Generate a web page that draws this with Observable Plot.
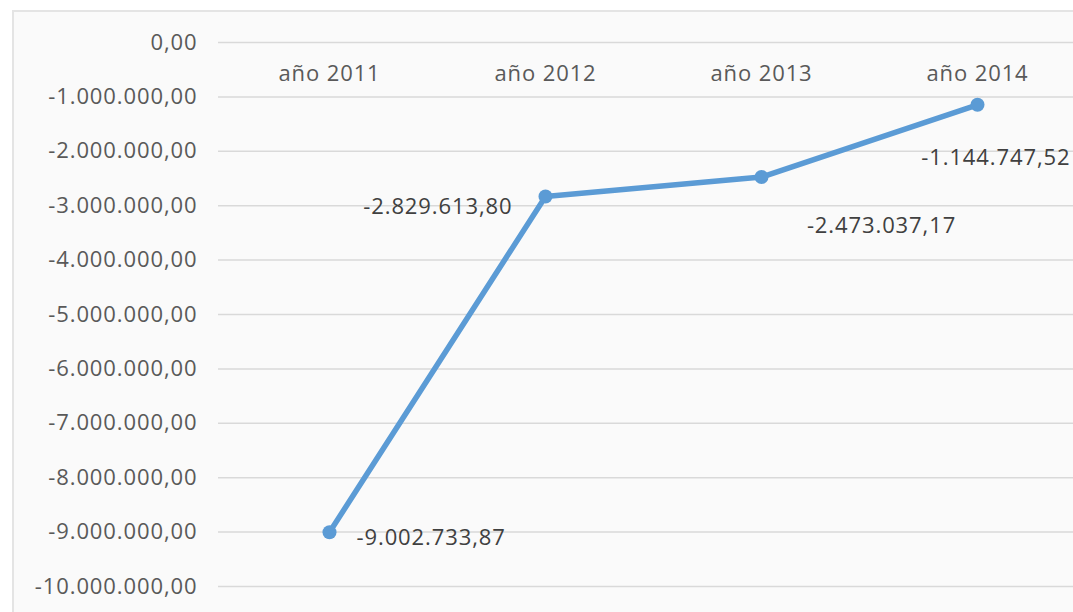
<!DOCTYPE html>
<html><head><meta charset="utf-8">
<script src="https://cdn.jsdelivr.net/npm/d3@7"></script>
<script src="https://cdn.jsdelivr.net/npm/@observablehq/plot@0.6"></script>
<style>
body{margin:0;background:#fff;overflow:hidden;width:1073px;height:612px}
#frame{position:absolute;left:12px;top:10px;width:1075px;height:610px;border:2px solid #e4e4e4;background:#fafafa}
#chart{position:absolute;left:0;top:0}
#chart svg text{letter-spacing:0.9px}
</style></head><body><div id="frame"></div><div id="chart"></div>
<script>
const years = ["año 2011", "año 2012", "año 2013", "año 2014"];
const values = [-9002733.87, -2829613.80, -2473037.17, -1144747.52];
const yTicks = [0, -1000000, -2000000, -3000000, -4000000, -5000000, -6000000, -7000000, -8000000, -9000000, -10000000];

const data = years.map((year, i) => ({year, value: values[i]}));
const fmt = d3.formatLocale({decimal: ",", thousands: ".", grouping: [3], currency: ["", "€"], minus: "-"}).format(",.2f");
const lineColor = "#5b9bd5";
const labelColor = "#404040";

const label = (year, opts) => Plot.text(data, {
  filter: d => d.year === year, x: "year", y: "value", text: d => fmt(d.value),
  fill: labelColor, lineAnchor: "middle", ...opts
});

const chart = Plot.plot({
  width: 1073, height: 612,
  marginLeft: 218, marginRight: 0, marginTop: 42, marginBottom: 26,
  style: {fontFamily: "Open Sans", fontSize: "22px", background: "transparent", overflow: "hidden"},
  x: {type: "point", domain: years, range: [328, 977], padding: 0, axis: null},
  y: {domain: [-10000000, 0], label: null, axis: null},
  marks: [
    Plot.gridY(yTicks, {stroke: "#d9d9d9", strokeOpacity: 1, strokeWidth: 1.5}),
    Plot.axisY(yTicks, {tickSize: 0, tickPadding: 21, tickFormat: fmt, color: "#595959", label: null}),
    Plot.text(years, {x: d => d, frameAnchor: "top", dy: 31, fill: "#595959", lineAnchor: "middle"}),
    Plot.line(data, {x: "year", y: "value", stroke: lineColor, strokeWidth: 5.5}),
    Plot.dot(data, {x: "year", y: "value", r: 7, fill: lineColor}),
    label("año 2011", {textAnchor: "start", dx: 27, dy: 6}),
    label("año 2012", {textAnchor: "end", dx: -33, dy: 11}),
    label("año 2013", {textAnchor: "middle", dx: 120, dy: 49}),
    label("año 2014", {textAnchor: "end", dx: 93, dy: 53})
  ]
});
document.getElementById("chart").appendChild(chart);
</script></body></html>
